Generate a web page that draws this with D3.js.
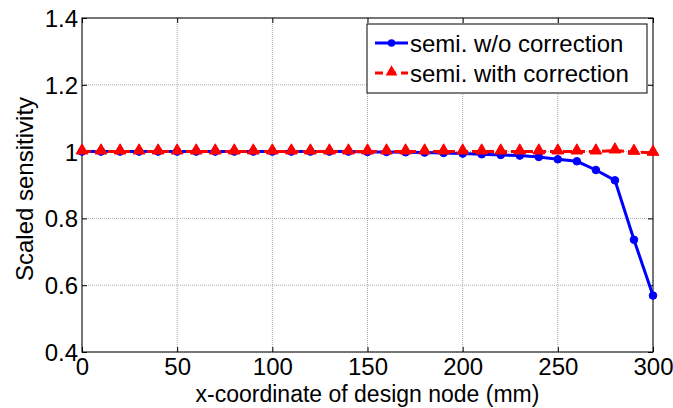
<!DOCTYPE html>
<html><head><meta charset="utf-8">
<script src="https://cdn.jsdelivr.net/npm/d3@7"></script>
<style>body{margin:0;background:#fff}svg{display:block}text{font-family:"Liberation Sans",Arial,sans-serif}</style>
</head><body><svg id="c" width="673" height="408"></svg>
<script>
const xValues = [0,10,20,30,40,50,60,70,80,90,100,110,120,130,140,150,160,170,180,190,200,210,220,230,240,250,260,270,280,290,300];
const seriesNoCorr = [1,1,1,1,1,1,1,1,1,1,1,1,1,1,1,0.999,0.999,0.998,0.997,0.996,0.994,0.992,0.990,0.988,0.984,0.977,0.971,0.945,0.914,0.736,0.569];
const seriesCorr = [1,1,1,1,1,1,1,1,1,1,1,1,1,1,1,1,1,1,1,1,1,1,1,1,1,1,1,1,1.003,0.999,0.996];
const xTicks = [0,50,100,150,200,250,300];
const yTicks = [0.4,0.6,0.8,1.0,1.2,1.4];
const yTickLabels = ["0.4","0.6","0.8","1","1.2","1.4"];
const legendLabels = ["semi. w/o correction","semi. with correction"];

const svg = d3.select("#c");
const L=82,R=653,T=18,B=352;
const x = d3.scaleLinear().domain([0,300]).range([L,R]);
const y = d3.scaleLinear().domain([0.4,1.4]).range([B,T]);

svg.append("rect").attr("width",673).attr("height",408).attr("fill","#fff");
// grid
const g = svg.append("g");
g.selectAll(".gx").data(xTicks).enter().append("line")
 .attr("x1",d=>x(d)).attr("x2",d=>x(d)).attr("y1",T).attr("y2",B)
 .attr("stroke","#aaa").attr("stroke-width",1).attr("stroke-dasharray","1,1");
g.selectAll(".gy").data(yTicks).enter().append("line")
 .attr("y1",d=>y(d)).attr("y2",d=>y(d)).attr("x1",L).attr("x2",R)
 .attr("stroke","#aaa").attr("stroke-width",1).attr("stroke-dasharray","1,1");

// axes
const fs = 24;
const ax = svg.append("g").attr("transform",`translate(0,${B})`)
 .call(d3.axisBottom(x).tickValues(xTicks).tickSize(-5).tickPadding(10).tickFormat(d3.format("d")));
const ay = svg.append("g").attr("transform",`translate(${L},0)`)
 .call(d3.axisLeft(y).tickValues(yTicks).tickSize(-5).tickPadding(4).tickFormat((d,i)=>yTickLabels[i]));
const at = svg.append("g").attr("transform",`translate(0,${T})`)
 .call(d3.axisTop(x).tickValues(xTicks).tickSize(-5).tickFormat(""));
const ar = svg.append("g").attr("transform",`translate(${R},0)`)
 .call(d3.axisRight(y).tickValues(yTicks).tickSize(-5).tickFormat(""));
[ax,ay,at,ar].forEach(a=>{
  a.select(".domain").remove();
  a.selectAll("line").attr("stroke","#000");
  a.selectAll("text").attr("font-size",fs).attr("fill","#000").style("font-family","'Liberation Sans',Arial,sans-serif");
});
ax.selectAll("text").attr("y",23).attr("dy","0");
ay.selectAll("text").attr("x",-4).attr("dy","0.35em");
svg.append("rect").attr("x",L).attr("y",T).attr("width",R-L).attr("height",B-T)
 .attr("fill","none").attr("stroke","#000").attr("stroke-width",1);

// lines
const line = (arr)=>d3.line().x((d,i)=>x(xValues[i])).y(d=>y(d))(arr);
svg.append("path").attr("d",line(seriesNoCorr)).attr("fill","none").attr("stroke","#0000ff").attr("stroke-width",3);
svg.selectAll(".cb").data(seriesNoCorr).enter().append("circle")
 .attr("cx",(d,i)=>x(xValues[i])).attr("cy",d=>y(d)).attr("r",3.8)
 .attr("fill","#0000ff").attr("stroke","#0000ff").attr("stroke-width",1);
svg.append("path").attr("d",line(seriesCorr)).attr("fill","none").attr("stroke","#ff0000").attr("stroke-width",3).attr("stroke-dasharray","9,4");
const tri = d3.symbol().type(d3.symbolTriangle).size(60);
svg.selectAll(".tr").data(seriesCorr).enter().append("path")
 .attr("d",tri).attr("transform",(d,i)=>`translate(${x(xValues[i])},${y(d)-1})`)
 .attr("fill","#ff0000").attr("stroke","#ff0000").attr("stroke-width",1);

// legend
const lg = svg.append("g");
lg.append("rect").attr("x",367).attr("y",24).attr("width",280).attr("height",69)
 .attr("fill","#fff").attr("stroke","#000").attr("stroke-width",1);
const ly = [43,73];
lg.append("line").attr("x1",375).attr("x2",408).attr("y1",ly[0]).attr("y2",ly[0]).attr("stroke","#0000ff").attr("stroke-width",3);
lg.append("circle").attr("cx",391.5).attr("cy",ly[0]).attr("r",3.8).attr("fill","#0000ff");
lg.append("line").attr("x1",375).attr("x2",408).attr("y1",ly[1]).attr("y2",ly[1]).attr("stroke","#ff0000").attr("stroke-width",3).attr("stroke-dasharray","8,5");
lg.append("path").attr("d",tri).attr("transform",`translate(391.5,${ly[1]-1})`).attr("fill","#ff0000");
lg.selectAll(".lt").data(legendLabels).enter().append("text")
 .attr("x",410).attr("y",(d,i)=>[52,82][i]).attr("font-size",fs).text(d=>d);

// axis labels
svg.append("text").attr("x",(L+R)/2).attr("y",402).attr("text-anchor","middle").attr("font-size",23)
 .text("x-coordinate of design node (mm)");
svg.append("text").attr("transform",`translate(33,${(T+B)/2+4}) rotate(-90)`).attr("text-anchor","middle").attr("font-size",fs)
 .text("Scaled sensitivity");
</script></body></html>
